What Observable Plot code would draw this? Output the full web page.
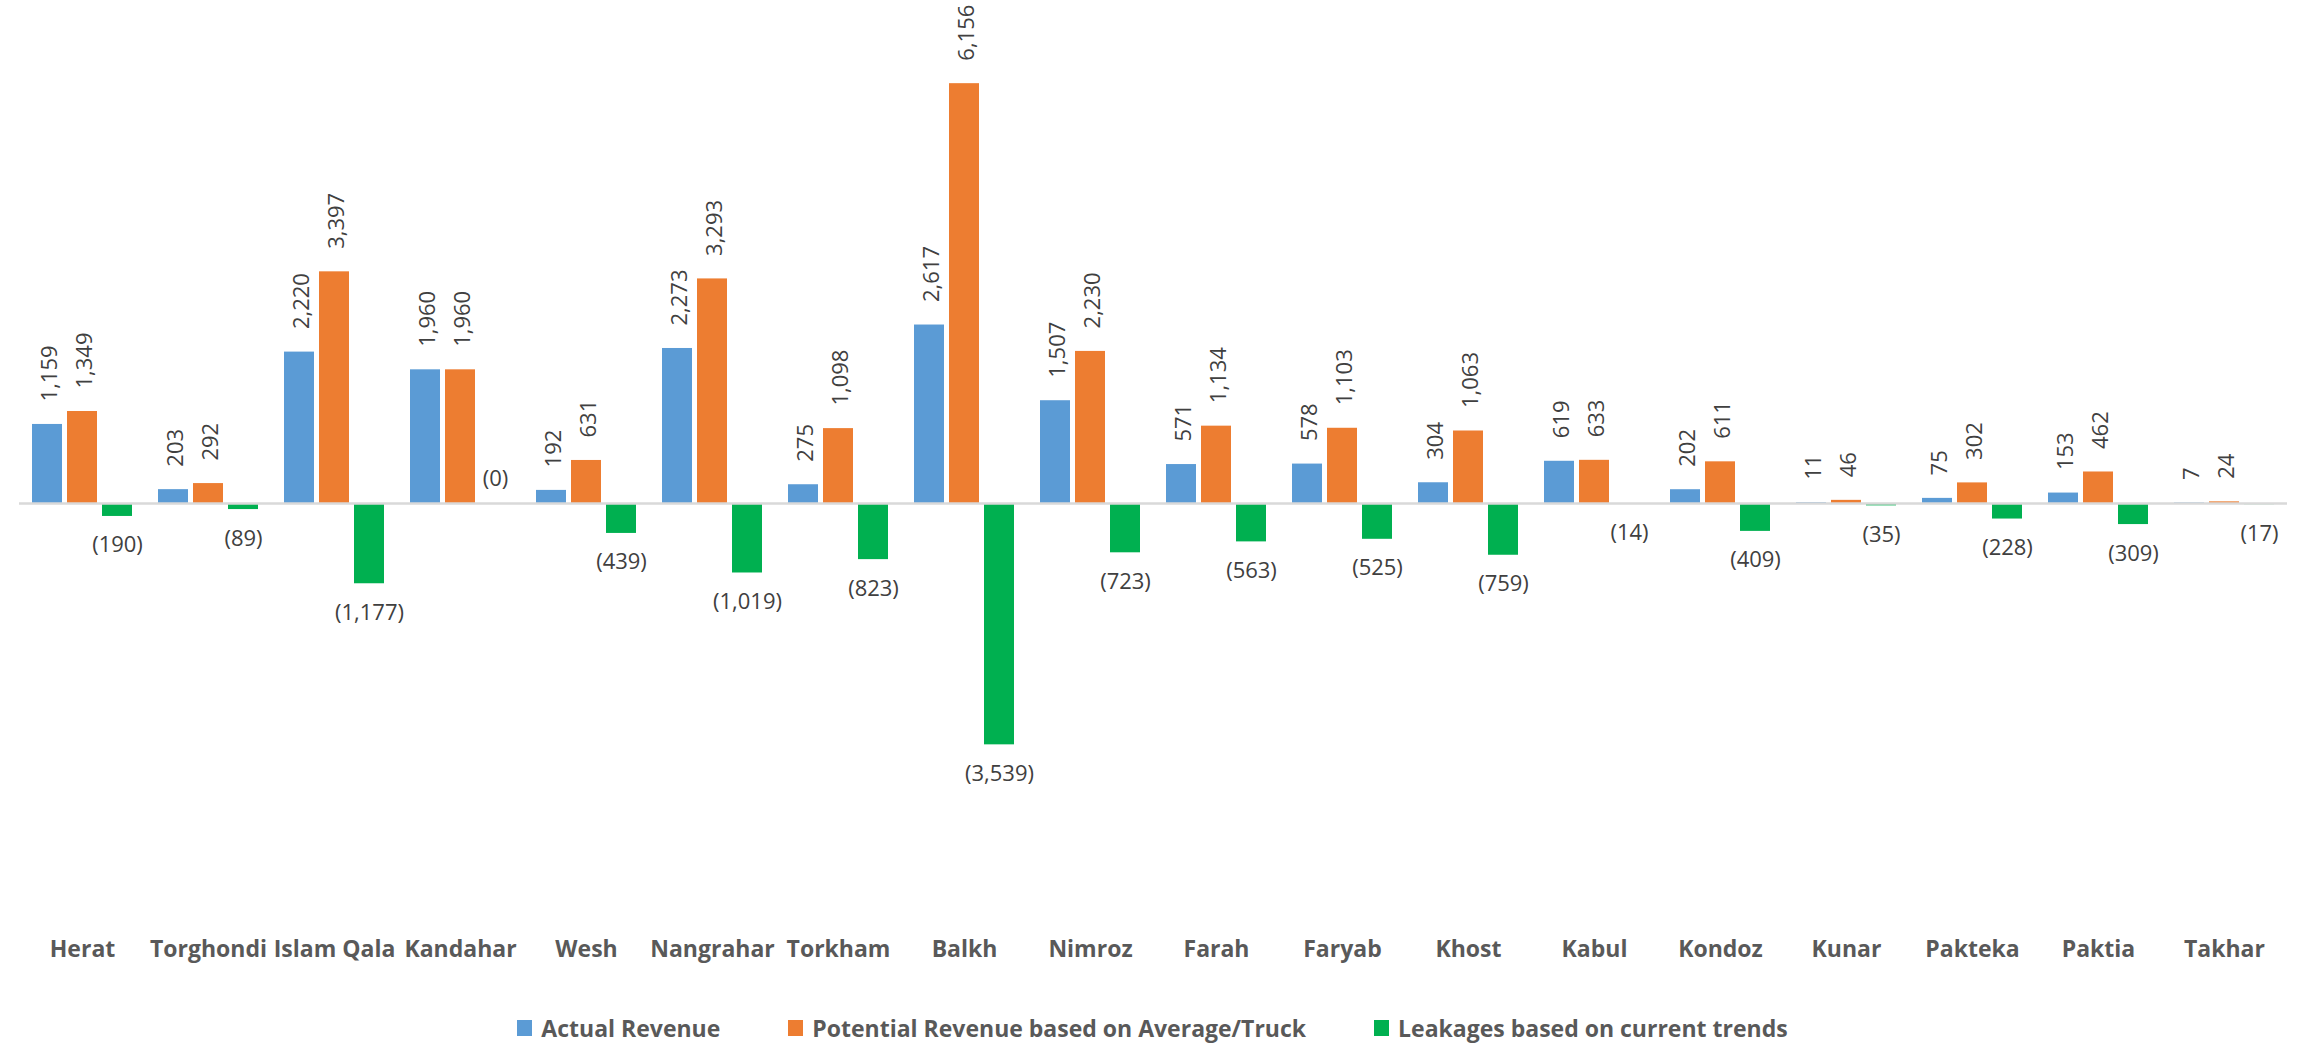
<!DOCTYPE html>
<html><head><meta charset="utf-8">
<script src="https://cdn.jsdelivr.net/npm/d3@7"></script>
<script src="https://cdn.jsdelivr.net/npm/@observablehq/plot@0.6"></script>
<style>
body{margin:0;background:#fff;font-family:"Open Sans",sans-serif;}
#legend{display:flex;justify-content:center;gap:68px;padding-top:38px;padding-right:16px;font-weight:bold;font-size:23px;color:#595959;line-height:30px;}
.item{display:flex;align-items:center;}
.sw{width:15px;height:16px;margin-right:9px;}
</style></head><body><div id="chart"></div><div id="legend"></div>
<script>
const categories = ["Herat","Torghondi","Islam Qala","Kandahar","Wesh","Nangrahar","Torkham","Balkh","Nimroz","Farah","Faryab","Khost","Kabul","Kondoz","Kunar","Pakteka","Paktia","Takhar"];
const actualRevenue    = [1159, 203, 2220, 1960, 192, 2273, 275, 2617, 1507, 571, 578, 304, 619, 202, 11, 75, 153, 7];
const potentialRevenue = [1349, 292, 3397, 1960, 631, 3293, 1098, 6156, 2230, 1134, 1103, 1063, 633, 611, 46, 302, 462, 24];
const leakages         = [-190, -89, -1177, 0, -439, -1019, -823, -3539, -723, -563, -525, -759, -14, -409, -35, -228, -309, -17];
const seriesNames = ["Actual Revenue", "Potential Revenue based on Average/Truck", "Leakages based on current trends"];
const seriesColors = ["#5B9BD5", "#ED7D31", "#00B050"];

const fmt = d3.format(",");
const seriesValues = [actualRevenue, potentialRevenue, leakages];
const rows = [];
categories.forEach((c, i) => {
  seriesValues.forEach((vals, s) => {
    const v = vals[i];
    rows.push({cat: c, series: seriesNames[s], s, value: v,
      label: s === 2 ? `(${fmt(Math.abs(v))})` : fmt(v)});
  });
});
const revRows = rows.filter(d => d.s < 2);
const leakNeg = rows.filter(d => d.s === 2 && d.value < 0);
const leakZero = rows.filter(d => d.s === 2 && d.value >= 0);

const W = 2321, H = 975;
const chart = Plot.plot({
  width: W, height: H,
  marginLeft: 11, marginRight: 26, marginTop: 40, marginBottom: 50,
  style: {fontFamily: "Open Sans", background: "#fff"},
  fx: {domain: categories, padding: 0, label: null, axis: null},
  x: {domain: seriesNames, paddingInner: 0.139, paddingOuter: 0.334, axis: null},
  y: {domain: [-6188, 6789], axis: null},
  color: {domain: seriesNames, range: seriesColors},
  marks: [
    Plot.barY(rows, {fx: "cat", x: "series", y: "value", fill: "series"}),
    Plot.ruleY([0], {stroke: "#d9d9d9", strokeWidth: 2.5}),
    Plot.text(revRows, {fx: "cat", x: "series", y: "value", text: "label", rotate: -90,
      textAnchor: "start", lineAnchor: "middle", dy: -23, dx: 2, fill: "#404040", fontSize: 22}),
    Plot.text(leakNeg, {fx: "cat", x: "series", y: "value", text: "label",
      textAnchor: "middle", lineAnchor: "middle", dy: 29, fill: "#404040", fontSize: 22}),
    Plot.text(leakZero, {fx: "cat", x: "series", y: "value", text: "label",
      textAnchor: "middle", lineAnchor: "middle", dy: -25, fill: "#404040", fontSize: 22}),
    Plot.axisFx({anchor: "bottom", tickSize: 0, tickPadding: 15, label: null,
      fontSize: 23, fontWeight: "bold", color: "#595959"})
  ]
});
document.getElementById("chart").appendChild(chart);

const legend = document.getElementById("legend");
seriesNames.forEach((n, i) => {
  const it = document.createElement("div"); it.className = "item";
  const sw = document.createElement("span"); sw.className = "sw"; sw.style.background = seriesColors[i];
  const tx = document.createElement("span"); tx.textContent = n;
  it.appendChild(sw); it.appendChild(tx); legend.appendChild(it);
});
</script></body></html>
